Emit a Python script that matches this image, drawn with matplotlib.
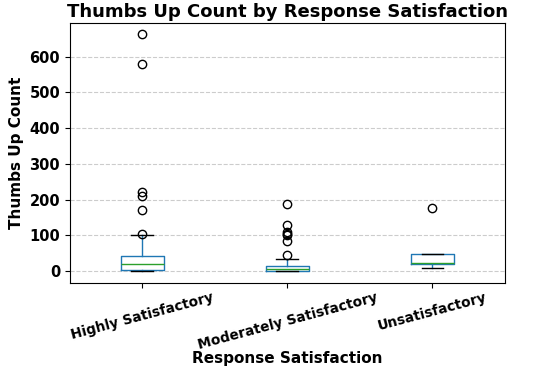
import matplotlib
matplotlib.use("Agg")
import matplotlib.pyplot as plt

categories = ["Highly Satisfactory", "Moderately Satisfactory", "Unsatisfactory"]

highly = [0, 0, 1, 1, 2, 2, 3, 3, 3, 4, 4,
          4,
          5, 6, 7, 8, 10, 11, 12, 14, 15, 17,
          19,
          21, 23, 25, 27, 29, 31, 33, 35, 37, 40,
          43,
          47, 58, 66, 78, 100, 104, 170, 210, 222, 580, 662]

moderately = [0, 0, 0, 0, 1, 1, 1, 1, 2, 2,
              2,
              3, 3, 4, 4, 5, 5, 6, 6, 7,
              7,
              8, 9, 10, 10, 11, 12, 13, 14, 15,
              16,
              22, 28, 35, 44, 84, 100, 104, 110, 128, 188]

unsatisfactory = [10, 20, 21, 22, 47, 47, 176]

series = [highly, moderately, unsatisfactory]

fig = plt.figure(figsize=(5.5, 3.71), dpi=100)
ax = fig.add_axes([0.127, 0.237, 0.791, 0.702])

ax.boxplot(series, widths=0.3,
           boxprops=dict(color="#1f77b4"),
           whiskerprops=dict(color="#1f77b4"),
           capprops=dict(color="black"),
           medianprops=dict(color="#2ca02c"),
           flierprops=dict(marker="o", markerfacecolor="none",
                           markeredgecolor="black", markersize=6))

ax.set_xticks([1, 2, 3])
ax.set_xticklabels(categories, rotation=15, fontweight="bold", fontsize=9.8)
ax.tick_params(axis="x", pad=2)
ax.tick_params(axis="y", labelsize=10.5)
for lab in ax.get_yticklabels():
    lab.set_fontweight("bold")
ax.yaxis.grid(True, linestyle="--", color="#cccccc", linewidth=0.8)
ax.set_axisbelow(True)

ax.set_title("Thumbs Up Count by Response Satisfaction", fontsize=13, fontweight="bold", pad=4)
ax.set_xlabel("Response Satisfaction", fontsize=11, fontweight="bold")
ax.xaxis.set_label_coords(0.5, -0.262)
ax.set_ylabel("Thumbs Up Count", fontsize=11, fontweight="bold")

fig.savefig("out.png", dpi=100)
